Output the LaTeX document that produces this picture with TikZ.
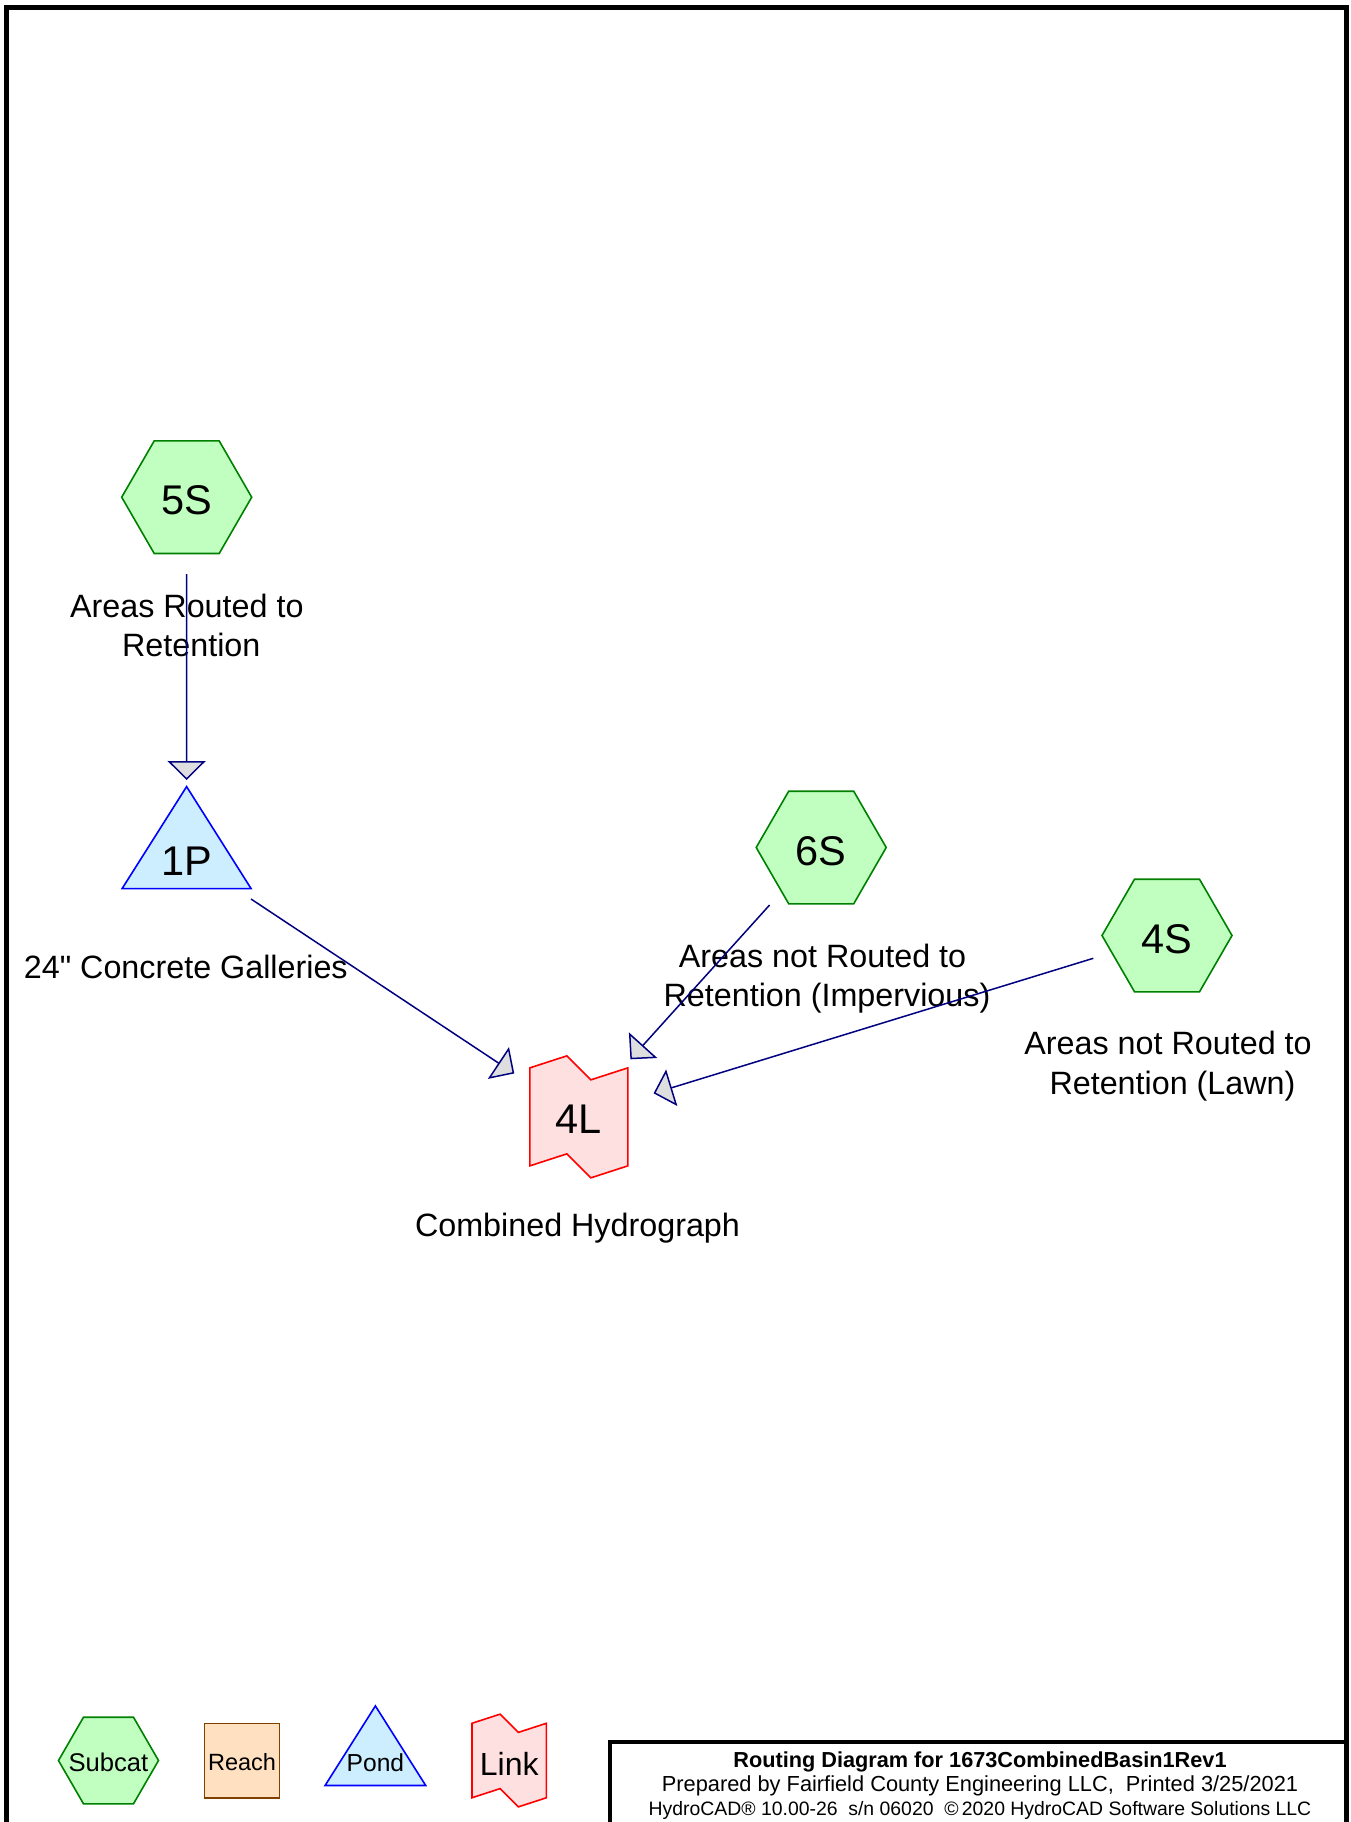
\documentclass[tikz,border=0pt]{standalone}
\usepackage{fontspec}
\setmainfont{Liberation Sans}[Ligatures=TeXOff]
\usetikzlibrary{arrows.meta,shapes.geometric}
\definecolor{subfill}{RGB}{192,255,192}
\definecolor{subdraw}{RGB}{0,128,0}
\definecolor{pondfill}{RGB}{204,238,255}
\definecolor{ponddraw}{RGB}{0,0,255}
\definecolor{linkfill}{RGB}{255,224,224}
\definecolor{linkdraw}{RGB}{255,0,0}
\definecolor{reachfill}{RGB}{255,224,192}
\definecolor{reachdraw}{RGB}{128,64,0}
\definecolor{arrowc}{RGB}{0,0,128}
\definecolor{arrowfill}{RGB}{222,222,222}
\newcommand{\fs}[2]{\fontsize{#1}{#2}\selectfont}
\newcommand{\lstrut}{\vphantom{(}}
\tikzset{
  subcat/.style={regular polygon, regular polygon sides=6, minimum size=130pt, inner sep=0pt,
    draw=subdraw, fill=subfill, line width=1.6pt, font=\fs{41.5pt}{49pt}, text height=35.4pt, text depth=0pt},
  idtext/.style={inner sep=0pt, font=\fs{41.5pt}{49pt}, text depth=0pt},
  lbl/.style={inner sep=0pt, align=center, font=\fs{32.3pt}{39.4pt}},
  flow/.style={draw=arrowc, line width=1.5pt, -{Triangle[open, fill=arrowfill, length=19pt, width=38pt]}},
  pondtri/.pic={\filldraw[draw=ponddraw, fill=pondfill, line width=1.6pt, line join=miter]
    (-64.5,51) -- (64.5,51) -- (0,-51) -- cycle;},
  linkshp/.pic={\filldraw[draw=linkdraw, fill=linkfill, line width=1.6pt, line join=miter]
    (-49,-49) -- (-12,-61) -- (12,-37) -- (49,-49) -- (49,49) -- (12,61) -- (-12,37) -- (-49,49) -- cycle;}
}
\begin{document}
\begin{tikzpicture}[x=1pt,y=-1pt]
\useasboundingbox (0,0) rectangle (1351,1822);
\fill[white] (0,0) rectangle (1351,1822);
% frame and title box
\draw[line width=5pt] (6.5,1822) -- (6.5,7.5) -- (1346.5,7.5) -- (1346.5,1822);
\draw[line width=4.5pt] (610,1822) -- (610,1742) -- (1346.5,1742);

% subcatchments
\node[subcat] (5S) at (186.7,497.2) {5S};
\node[subcat] (6S) at (821.2,847.5) {6S};
\node[subcat] (4S) at (1167,935.5) {4S};

% pond
\pic at (186.6,837.6) {pondtri};
\node[idtext, minimum width=129pt, minimum height=102pt, text height=74.8pt] (1P) at (186.6,837.6) {1P};

% link
\pic at (578.85,1116.85) {linkshp};
\node[idtext, minimum width=98pt, minimum height=98pt, text height=32.9pt] (4L) at (578.85,1116.85) {4L};

% labels
\node[lbl] (5Slbl) at (191.3,628.7) {\lstrut Areas Routed to\kern8.9pt\\\lstrut Retention};
\node[lbl, anchor=base] (1Plbl) at (185.8,978.3) {24" Concrete Galleries};
\node[lbl] (6Slbl) at (827,978.7) {\lstrut Areas not Routed to\kern8.9pt\\\lstrut Retention (Impervious)};
\node[lbl] (4Slbl) at (1172.5,1066.2) {\lstrut Areas not Routed to\kern8.9pt\\\lstrut Retention (Lawn)};
\node[lbl, anchor=base] (4Llbl) at (577.5,1236.7) {Combined Hydrograph};

% connectors
\draw[flow] ([shift={(0,76.8)}]5S.center) -- ([shift={(0,-57.6)}]1P.center);
\draw[flow] ([shift={(64.4,61.4)}]1P.center) -- ([shift={(-64.6,-43.4)}]4L.center);
\draw[flow] ([shift={(-51.6,57.5)}]6S.center) -- ([shift={(51.55,-57.55)}]4L.center);
\draw[flow] ([shift={(-73.7,22.8)}]4S.center) -- ([shift={(74.75,-23.55)}]4L.center);

% legend
\node[subcat, minimum size=100pt, font=\fs{25.6pt}{30pt}, text height=22.4pt] (lgSub) at (108.5,1760.5) {\makebox[0pt]{Subcat}};
\node[draw=reachdraw, fill=reachfill, line width=1.6pt, minimum width=74.7pt, minimum height=74.4pt,
  inner sep=0pt, font=\fs{23.5pt}{28pt}, text height=19pt, text depth=0pt] (lgReach) at (242,1760.5) {Reach};
\pic[scale=0.78] at (375.4,1745.7) {pondtri};
\node[idtext, font=\fs{24.6pt}{30pt}, text height=50.6pt] (lgPond) at (375.4,1745.7) {Pond};
\pic[scale=0.76] at (509.2,1760.5) {linkshp};
\node[idtext, font=\fs{32pt}{38pt}, text height=29pt] (lgLink) at (509.2,1760.5) {Link};

% title block
\node[inner sep=0pt, anchor=north, align=center, font=\fs{21.8pt}{24.2pt}] (title) at (980,1751)
  {\rule{0pt}{16pt}{\bfseries\fs{21.7pt}{24.2pt}Routing Diagram for 1673CombinedBasin1Rev1}\\
   Prepared by Fairfield County Engineering LLC,~ Printed 3/25/2021\\
   {\fs{19.4pt}{24.2pt}HydroCAD® 10.00-26~ s/n 06020~ ©\,2020 HydroCAD Software Solutions LLC}};
\end{tikzpicture}
\end{document}
